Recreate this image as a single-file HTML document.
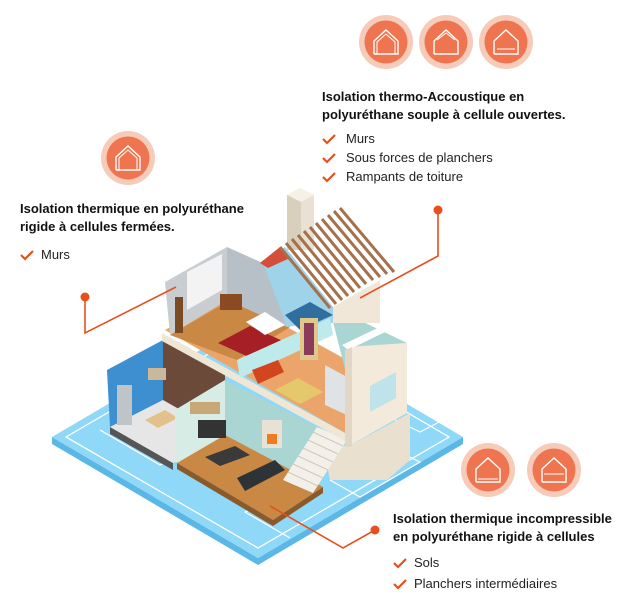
<!DOCTYPE html>
<html><head><meta charset="utf-8"><style>
body{margin:0;width:642px;height:615px;background:#fff;overflow:hidden;position:relative;font-family:"Liberation Sans",sans-serif}
svg{position:absolute;left:0;top:0}
.h{position:absolute;font-weight:bold;font-size:13px;line-height:18px;color:#111}
.l{position:absolute;font-size:13px;color:#222}
</style></head><body>
<svg width="642" height="615" viewBox="0 0 642 615">
<!-- blueprint -->
<polygon points="52,437 258,558 463,437 463,444 258,565 52,444" fill="#5bb8e6"/>
<polygon points="52,437 258,316 463,437 258,558" fill="#8fd8f7"/>
<polygon points="66,437 258,325 449,437 258,548" fill="none" stroke="#fff" stroke-width="1.3"/>
<polyline points="100,430 160,465 175,458 260,505 245,512 290,538" fill="none" stroke="#fff" stroke-width="1.2"/>
<polyline points="330,480 360,497 420,462 395,450 385,455 375,448 360,460" fill="none" stroke="#fff" stroke-width="1.2"/>
<polyline points="395,420 420,432 443,420" fill="none" stroke="#fff" stroke-width="1.2"/>
<!-- kitchen -->
<polygon points="107,370 163,340 163,400 110,427" fill="#3d8fd0"/>
<polygon points="110,427 173,463 173,470 110,434" fill="#555"/>
<polygon points="110,427 163,400 225,435 173,463" fill="#e6e6e6"/>
<polygon points="163,340 225,375 225,435 163,400" fill="#6b4a3a"/>
<rect x="117" y="385" width="15" height="40" fill="#bfc4c8"/>
<polygon points="145,420 165,410 178,418 158,428" fill="#e2c28a"/>
<rect x="148" y="368" width="18" height="12" fill="#c9b99a"/>
<!-- living lower -->
<polygon points="175,410 225,380 225,470 175,462" fill="#d8ece6"/>
<polygon points="225,380 317,427 305,470 225,470" fill="#a9d6d3"/>
<polygon points="177,463 225,435 323,487 273,520" fill="#c98844"/>
<polygon points="177,463 273,520 273,526 177,469" fill="#8a5a2a"/>
<polygon points="273,520 323,487 323,493 273,526" fill="#8a5a2a"/>
<rect x="198" y="420" width="28" height="18" fill="#333"/>
<rect x="190" y="402" width="30" height="12" fill="#c8a878"/>
<polygon points="237,478 275,460 285,470 245,491" fill="#2e3338"/>
<polygon points="205,457 235,446 250,455 220,466" fill="#3a3a3a"/>
<rect x="262" y="420" width="20" height="28" fill="#e8e2d6"/><rect x="267" y="434" width="10" height="10" fill="#f07a20"/>
<!-- annex base & stairs -->
<polygon points="320,433 347,447 410,413 410,460 387,480 330,480" fill="#eae0cf"/>
<polygon points="283,480 317,427 347,440 313,493" fill="#f3f0ea"/>
<g stroke="#cfc8bb" stroke-width="1"><line x1="288" y1="472" x2="318" y2="486"/><line x1="293" y1="464" x2="323" y2="478"/><line x1="298" y1="456" x2="328" y2="470"/><line x1="303" y1="448" x2="333" y2="462"/><line x1="308" y1="440" x2="338" y2="454"/><line x1="313" y1="432" x2="343" y2="446"/></g>
<!-- upper slab -->
<polygon points="162,333 347,434 347,442 162,341" fill="#efe6d6"/>
<polygon points="165,330 237,290 287,327 347,360 347,434" fill="#eba56a"/>
<polygon points="170,335 230,300 290,327 237,360" fill="#c98844"/>
<!-- bedroom -->
<polygon points="165,282 227,247 227,300 170,335" fill="#c8cdd2"/>
<polygon points="187,272 222,254 222,290 187,310" fill="#f3f3f3"/>
<polygon points="227,247 267,265 287,327 227,300" fill="#b7c0c7"/>
<polygon points="218,343 250,326 285,342 255,360" fill="#a51f24"/>
<polygon points="246,322 265,312 285,325 265,335" fill="#fff"/>
<rect x="220" y="294" width="22" height="16" fill="#8a4a22"/>
<rect x="175" y="297" width="8" height="36" fill="#7a4a22"/>
<!-- bathroom -->
<polygon points="263,263 285,247 333,307 333,323 300,325 287,327" fill="#9fd3ea"/>
<polygon points="285,315 310,302 333,315 300,330" fill="#2f6e9e"/>
<!-- living upper wall & furniture -->
<polygon points="237,360 330,318 333,335 240,378" fill="#bfeaec"/>
<rect x="300" y="318" width="18" height="42" fill="#e0c88a"/>
<rect x="304" y="323" width="10" height="32" fill="#8b3a5a"/>
<polygon points="252,370 278,360 284,372 258,384" fill="#d3451f"/>
<polygon points="275,390 298,378 323,392 300,404" fill="#e6c86c"/>
<!-- right annex -->
<polygon points="333,322 353,317 407,343 347,377" fill="#a9d6d3"/>
<polygon points="325,365 347,377 347,415 325,405" fill="#dfe3e6"/>
<polygon points="347,347 407,343 407,413 347,447" fill="#f3eadc"/>
<polygon points="342,345 403,316 410,320 348,350" fill="#fff"/>
<polygon points="370,386 396,372 396,398 370,412" fill="#bfe3ea"/>
<polygon points="345,350 352,347 352,447 345,447" fill="#e2d7c4"/>
<!-- gable -->
<polygon points="333,307 380,280 380,323 333,323" fill="#f1e7d8"/>
<!-- chimney -->
<polygon points="287,195 300,188 314,195 314,250 287,250" fill="#e9e2d4"/>
<polygon points="287,195 300,188 314,195 301,202" fill="#f6f1e7"/>
<polygon points="287,195 301,202 301,250 287,250" fill="#d8cfbd"/>
<!-- red roof -->
<polygon points="260,263 280,247 290,258 268,268" fill="#d44e3a"/>
<!-- rafters -->
<g stroke="#a5714c" stroke-width="3">
<line x1="280" y1="247" x2="330" y2="308"/><line x1="286" y1="243" x2="336" y2="304"/><line x1="292" y1="239" x2="342" y2="300"/><line x1="298" y1="235" x2="348" y2="296"/><line x1="304" y1="231" x2="354" y2="292"/><line x1="310" y1="227" x2="360" y2="288"/><line x1="316" y1="223" x2="366" y2="284"/><line x1="322" y1="219" x2="373" y2="280"/><line x1="328" y1="215" x2="380" y2="277"/><line x1="334" y1="211" x2="387" y2="274"/><line x1="340" y1="208" x2="394" y2="272"/>
</g>
<!-- connectors -->
<g stroke="#e8501b" stroke-width="1.6" fill="none">
<polyline points="85,297 85,333 176,287"/>
<polyline points="438,210 438,256 360,298"/>
<polyline points="270,506 343,548 375,530"/>
</g>
<g fill="#e8501b"><circle cx="85" cy="297" r="4.5"/><circle cx="438" cy="210" r="4.5"/><circle cx="375" cy="530" r="4.5"/></g>
<!-- icons -->
<g fill="#f7cbb9"><circle cx="128" cy="158" r="27"/><circle cx="386" cy="42" r="27"/><circle cx="446" cy="42" r="27"/><circle cx="506" cy="42" r="27"/><circle cx="488" cy="470" r="27"/><circle cx="554" cy="470" r="27"/></g>
<g fill="#ee7550"><circle cx="128" cy="158" r="21.5"/><circle cx="386" cy="42" r="21.5"/><circle cx="446" cy="42" r="21.5"/><circle cx="506" cy="42" r="21.5"/><circle cx="488" cy="470" r="21.5"/><circle cx="554" cy="470" r="21.5"/></g>
<g fill="none" stroke="#fff" stroke-width="1.4">
<polyline points="116,170 116,157 128,146 140,157 140,170 116,170"/><polyline points="119,170 119,158 128,150 137,158 137,170" stroke-width="1"/>
<polyline points="374,54 374,41 386,30 398,41 398,54 374,54"/><polyline points="377,54 377,42 386,34 395,42 395,54" stroke-width="1"/>
<polyline points="434,54 434,41 446,30 458,41 458,54 434,54"/><polyline points="437,40 446,33 455,40" stroke-width="1"/>
<polyline points="494,54 494,41 506,30 518,41 518,54 494,54"/><line x1="497" y1="49" x2="515" y2="49" stroke-width="1"/>
<polyline points="476,482 476,469 488,458 500,469 500,482 476,482"/><line x1="478" y1="479" x2="498" y2="479" stroke-width="1"/>
<polyline points="542,482 542,469 554,458 566,469 566,482 542,482"/><line x1="544" y1="474" x2="564" y2="474" stroke-width="1"/>
</g>
<g fill="none" stroke="#e8501b" stroke-width="2.2">
<polyline points="21,255 25,259 33,251"/>
<polyline points="323,139 327,143 335,135"/><polyline points="323,158 327,162 335,154"/><polyline points="323,177 327,181 335,173"/>
<polyline points="394,563 398,567 406,559"/><polyline points="394,584 398,588 406,580"/>
</g>
</svg>
<div class="h" style="left:20px;top:200px">Isolation thermique en polyuréthane<br>rigide à cellules fermées.</div>
<div class="l" style="left:41px;top:247px">Murs</div>
<div class="h" style="left:322px;top:88px">Isolation thermo-Accoustique en<br>polyuréthane souple à cellule ouvertes.</div>
<div class="l" style="left:346px;top:131px">Murs</div>
<div class="l" style="left:346px;top:150px">Sous forces de planchers</div>
<div class="l" style="left:346px;top:169px">Rampants de toiture</div>
<div class="h" style="left:393px;top:510px">Isolation thermique incompressible<br>en polyuréthane rigide à cellules</div>
<div class="l" style="left:414px;top:555px">Sols</div>
<div class="l" style="left:414px;top:576px">Planchers intermédiaires</div>
</body></html>
